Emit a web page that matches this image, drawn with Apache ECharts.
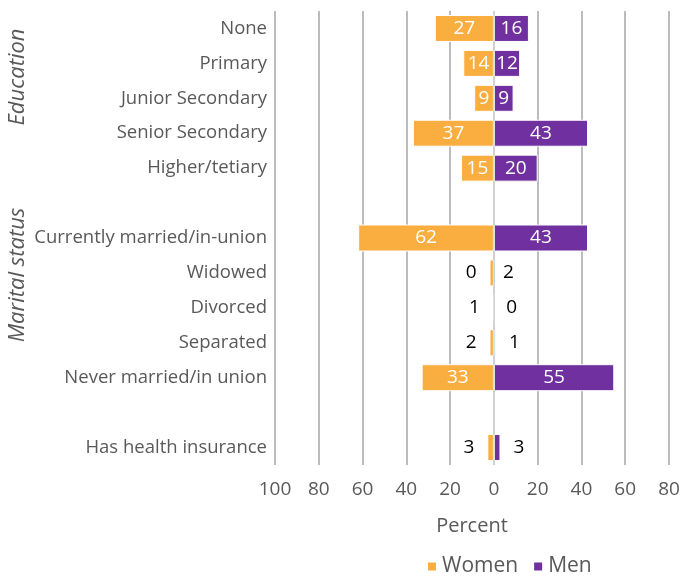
<!DOCTYPE html>
<html><head><meta charset="utf-8">
<script src="https://cdn.jsdelivr.net/npm/echarts@6/dist/echarts.min.js"></script>
<style>html,body{margin:0;padding:0;background:#fff}#c{width:686px;height:576px}</style>
</head><body><div id="c"></div>
<script>
const categories = ['None','Primary','Junior Secondary','Senior Secondary','Higher/tetiary',' ','Currently married/in-union','Widowed','Divorced','Separated','Never married/in union','  ','Has health insurance'];
const womenValues = [27,14,9,37,15,null,62,2,0.5,2,33,null,3];
const menValues   = [16,12,9,43,20,null,43,0,0,1,55,null,3];
const womenLabels = ['27','14','9','37','15','','62','0','1','2','33','','3'];
const menLabels   = ['16','12','9','43','20','','43','2','0','1','55','','3'];
const xTicks = {min:-100, max:80, interval:20};
const groupTitles = [{text:'Education', y:77},{text:'Marital status', y:275}];

const font = '"Open Sans", "Liberation Sans", Arial, sans-serif';
function build(vals, labels, sign, side){
  return vals.map((v,i)=>{
    if (v===null) return null;
    const small = v < 5;
    return {
      value: sign*v,
      label: {
        show: true,
        formatter: labels[i],
        position: small ? side : 'inside',
        distance: 13,
        color: small ? '#000' : '#fff',
        fontSize: 19,
        fontFamily: font
      }
    };
  });
}
const chart = echarts.init(document.getElementById('c'), null, {renderer:'canvas'});
chart.setOption({
  animation:false,
  grid:{left:275, right:17, top:11, bottom:111, containLabel:false},
  legend:{
    top:551, left:421, itemGap:14, itemWidth:10, itemHeight:10, icon:'rect',
    textStyle:{fontSize:21, color:'#595959', fontFamily:font},
    data:['Women','Men']
  },
  xAxis:{
    type:'value', min:xTicks.min, max:xTicks.max, interval:xTicks.interval,
    name:'Percent', nameLocation:'middle', nameGap:51,
    nameTextStyle:{fontSize:20, color:'#595959', fontFamily:font},
    axisLabel:{formatter:v=>String(Math.abs(v)), fontSize:19, color:'#595959', fontFamily:font, margin:15},
    axisLine:{show:false}, axisTick:{show:false},
    splitLine:{show:true, lineStyle:{color:'#a6a6a6', width:1.5}}
  },
  yAxis:{
    type:'category', data:categories, inverse:true,
    axisLine:{show:false}, axisTick:{show:false},
    axisLabel:{fontSize:18.5, color:'#595959', fontFamily:font, margin:8}
  },
  series:[
    {name:'Women', type:'bar', stack:'t', barWidth:27, data:build(womenValues, womenLabels, -1, 'left'),
     itemStyle:{color:'#FBAE40', borderColor:'#fff', borderWidth:1}},
    {name:'Men', type:'bar', stack:'t', barWidth:27, data:build(menValues, menLabels, 1, 'right'),
     itemStyle:{color:'#7030A0', borderColor:'#fff', borderWidth:1},
     markLine:{silent:true, symbol:'none', label:{show:false}, lineStyle:{color:'#d9d9d9', type:'solid', width:1.5}, data:[{xAxis:0}]}}
  ],
  graphic: groupTitles.map(g=>({
    type:'text', x:18, y:g.y, rotation:Math.PI/2,
    style:{text:g.text, font:'italic 22px '+font, fill:'#595959', align:'center', verticalAlign:'middle'}
  }))
});
</script></body></html>
